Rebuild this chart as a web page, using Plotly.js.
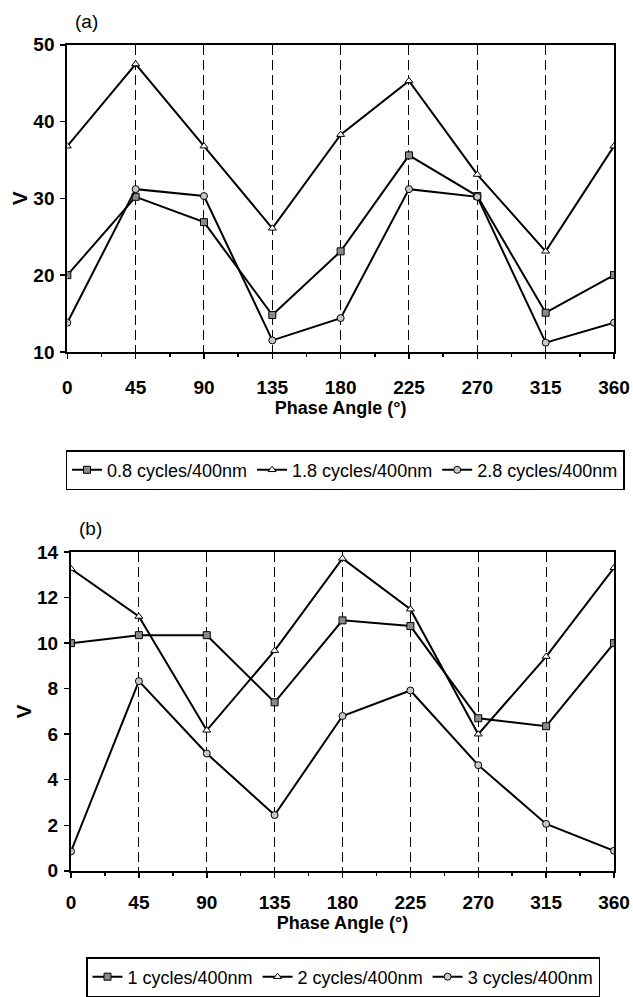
<!DOCTYPE html>
<html>
<head>
<meta charset="utf-8">
<script src="https://cdn.plot.ly/plotly-3.0.1.min.js"></script>
<style>html,body{margin:0;padding:0;background:#fff;}#chart{width:633px;height:997px;}</style>
</head>
<body>
<div id="chart"></div>
<script>
// Phase angles (degrees)
const phaseAngles = [0, 45, 90, 135, 180, 225, 270, 315, 360];

// Panel (a)
const namesA = ["0.8 cycles/400nm", "1.8 cycles/400nm", "2.8 cycles/400nm"];
const a08 = [20.0, 30.2, 26.9, 14.8, 23.1, 35.6, 30.3, 15.1, 20.0];
const a18 = [36.8, 47.5, 36.8, 26.1, 38.3, 45.3, 33.1, 23.1, 36.8];
const a28 = [13.8, 31.2, 30.3, 11.5, 14.4, 31.2, 30.2, 11.2, 13.8];

// Panel (b)
const namesB = ["1 cycles/400nm", "2 cycles/400nm", "3 cycles/400nm"];
const b1 = [10.0, 10.35, 10.35, 7.4, 11.0, 10.75, 6.7, 6.35, 10.0];
const b2 = [13.27, 11.17, 6.17, 9.67, 13.72, 11.49, 6.0, 9.41, 13.31];
const b3 = [0.85, 8.33, 5.15, 2.45, 6.8, 7.92, 4.64, 2.06, 0.88];

const xTicks = [0, 45, 90, 135, 180, 225, 270, 315, 360];
const yTicksA = [10, 20, 30, 40, 50];
const yTicksB = [0, 2, 4, 6, 8, 10, 12, 14];

const W = 633, H = 997;
const FONT = "Liberation Sans, Arial, Helvetica, sans-serif";

const styles = [
  {symbol: "square", color: "#8a8a8a"},
  {symbol: "triangle-up", color: "#ffffff"},
  {symbol: "circle", color: "#c8c8c8"}
];

function mk(x, y, name, i, xa, ya, leg) {
  return {
    type: "scatter", mode: "lines+markers", x: x, y: y, name: name,
    xaxis: xa, yaxis: ya, legend: leg,
    line: {color: "#000", width: 2},
    marker: {symbol: styles[i].symbol, size: 7, color: styles[i].color,
             line: {color: "#000", width: 1}}
  };
}

const data = [
  mk(phaseAngles, a08, namesA[0], 0, "x", "y", "legend"),
  mk(phaseAngles, a18, namesA[1], 1, "x", "y", "legend"),
  mk(phaseAngles, a28, namesA[2], 2, "x", "y", "legend"),
  mk(phaseAngles, b1, namesB[0], 0, "x2", "y2", "legend2"),
  mk(phaseAngles, b2, namesB[1], 1, "x2", "y2", "legend2"),
  mk(phaseAngles, b3, namesB[2], 2, "x2", "y2", "legend2")
];

function px2x(p) { return p / W; }
function px2y(p) { return 1 - p / H; }

function xaxis(dom, anchor, lblOff) {
  return {
    domain: dom, anchor: anchor, range: [0, 360],
    tickmode: "array", tickvals: xTicks, ticktext: xTicks.map(String),
    ticks: "outside", ticklen: 5, tickwidth: 1.5, tickcolor: "#000",
    ticklabelstandoff: lblOff, ticklabeloverflow: "allow",
    minor: {dtick: 22.5, tick0: 0, ticks: "outside", ticklen: 3, tickcolor: "#000", showgrid: false},
    showline: true, linecolor: "#000", linewidth: 2, mirror: true,
    showgrid: true, gridcolor: "#000", gridwidth: 1, griddash: "10px,5px",
    zeroline: false,
    tickfont: {family: FONT, size: 19, color: "#000", weight: "bold"},
    title: {text: "Phase Angle (°)", font: {family: FONT, size: 18, color: "#000", weight: "bold"}, standoff: 4}
  };
}
function yaxis(dom, anchor, range, vals) {
  return {
    domain: dom, anchor: anchor, range: range,
    tickmode: "array", tickvals: vals, ticktext: vals.map(String),
    ticks: "outside", ticklen: 5, tickwidth: 1.5, tickcolor: "#000",
    ticklabelstandoff: 2,
    showline: true, linecolor: "#000", linewidth: 2, mirror: true,
    showgrid: false, zeroline: false,
    tickfont: {family: FONT, size: 19, color: "#000", weight: "bold"},
    title: {text: "V", font: {family: FONT, size: 21, color: "#000", weight: "bold"}, standoff: 0}
  };
}

const layout = {
  width: W, height: H,
  margin: {l: 0, r: 0, t: 0, b: 0},
  paper_bgcolor: "#fff", plot_bgcolor: "#fff",
  showlegend: true,
  xaxis: xaxis([px2x(67.3), px2x(614)], "y", 12),
  yaxis: yaxis([px2y(353.3), px2y(45)], "x", [10, 50], yTicksA),
  xaxis2: xaxis([px2x(71), px2x(614)], "y2", 8),
  yaxis2: yaxis([px2y(874.3), px2y(554.3)], "x2", [0, 14], yTicksB),
  legend: {
    orientation: "h", x: px2x(345), y: px2y(472), xanchor: "center", yanchor: "middle",
    bordercolor: "#000", borderwidth: 1.5, bgcolor: "#fff",
    font: {family: FONT, size: 18, color: "#000"}, itemwidth: 30
  },
  legend2: {
    orientation: "h", x: px2x(343), y: px2y(981), xanchor: "center", yanchor: "middle",
    bordercolor: "#000", borderwidth: 1.5, bgcolor: "#fff",
    font: {family: FONT, size: 18, color: "#000"}, itemwidth: 30
  },
  annotations: [
    {text: "(a)", xref: "paper", yref: "paper", x: px2x(86), y: px2y(22), showarrow: false,
     font: {family: FONT, size: 19, color: "#000"}, xanchor: "center", yanchor: "middle"},
    {text: "(b)", xref: "paper", yref: "paper", x: px2x(90), y: px2y(531), showarrow: false,
     font: {family: FONT, size: 19, color: "#000"}, xanchor: "center", yanchor: "middle"}
  ]
};

Plotly.newPlot("chart", data, layout, {displayModeBar: false, staticPlot: true});
</script>
</body>
</html>
